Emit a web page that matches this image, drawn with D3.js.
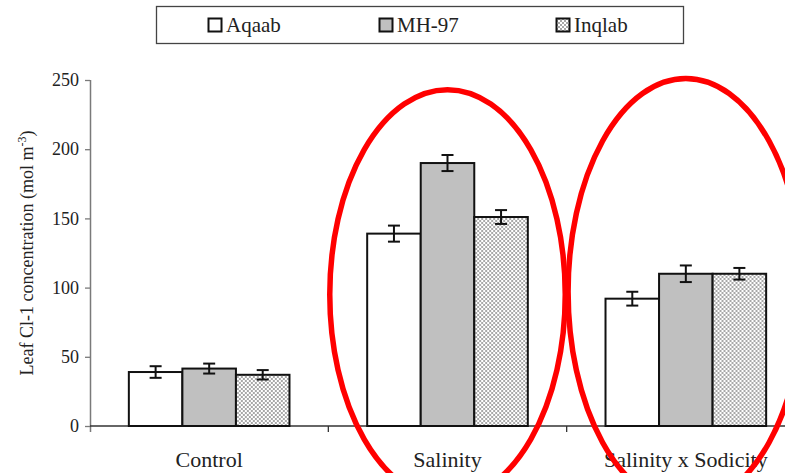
<!DOCTYPE html>
<html>
<head>
<meta charset="utf-8">
<script src="https://cdn.jsdelivr.net/npm/d3@7"></script>
<style>
  html, body { margin: 0; padding: 0; background: #fff; }
  svg { display: block; }
  svg text { font-family: "Liberation Serif", "Times New Roman", Tinos, serif !important; }
</style>
</head>
<body>
<svg id="chart" width="785" height="473"></svg>
<script>
// Treatments on the x axis
const categories = ["Control", "Salinity", "Salinity x Sodicity"];
// Wheat genotypes
const seriesNames = ["Aqaab", "MH-97", "Inqlab"];
// Leaf Cl- concentration (mol m-3) per genotype, one value per treatment
const aqaab  = [39, 139, 92];
const mh97   = [41.5, 190, 110];
const inqlab = [37, 151, 110];
// Standard errors
const aqaabErr  = [4.2, 5.8, 5];
const mh97Err   = [3.6, 5.8, 6];
const inqlabErr = [3.4, 5, 4.2];
// Y axis ticks
const yTicks = [0, 50, 100, 150, 200, 250];
// Highlighted treatments: ellipse top and centre given in data units
const highlights = [
  { category: "Salinity", top: 243, centre: 95 },
  { category: "Salinity x Sodicity", top: 251, centre: 97 }
];

const series = [
  { name: seriesNames[0], values: aqaab,  errs: aqaabErr,  fill: "#ffffff" },
  { name: seriesNames[1], values: mh97,   errs: mh97Err,   fill: "#c0c0c0" },
  { name: seriesNames[2], values: inqlab, errs: inqlabErr, fill: "url(#checker)" }
];

const svg = d3.select("#chart");

// Fine checkerboard fill
const defs = svg.append("defs");
const pat = defs.append("pattern")
  .attr("id", "checker").attr("patternUnits", "userSpaceOnUse")
  .attr("width", 4).attr("height", 4);
pat.append("rect").attr("width", 4).attr("height", 4).attr("fill", "#ffffff");
pat.append("rect").attr("width", 2).attr("height", 2).attr("fill", "#a8a8a8");
pat.append("rect").attr("x", 2).attr("y", 2).attr("width", 2).attr("height", 2).attr("fill", "#a8a8a8");

const plot = { left: 90, right: 805, top: 80, bottom: 426 };

const x = d3.scaleBand().domain(categories).range([plot.left, plot.right]).paddingInner(0).paddingOuter(0);
const groupWidth = x.bandwidth() * 0.674;
const xs = d3.scaleBand().domain(seriesNames).range([0, groupWidth]).padding(0);
const y = d3.scaleLinear().domain([0, 250]).range([plot.bottom, plot.top]);

// Y axis
const yAxis = svg.append("g")
  .attr("transform", `translate(${plot.left},0)`)
  .call(d3.axisLeft(y).tickValues(yTicks).tickSize(5).tickPadding(6).tickSizeOuter(0));
yAxis.select(".domain").attr("stroke", "#7a7a7a").attr("stroke-width", 1.5)
  .attr("d", `M0.5,${plot.top}V${plot.bottom + 6}`);
yAxis.selectAll(".tick line").attr("stroke", "#7a7a7a").attr("stroke-width", 1.3);
yAxis.selectAll(".tick text").attr("font-size", 18).attr("fill", "#222");

// X axis baseline with ticks at treatment boundaries
const xAxisG = svg.append("g").attr("transform", `translate(0,${plot.bottom})`);
xAxisG.append("line").attr("x1", plot.left).attr("x2", plot.right)
  .attr("stroke", "#333").attr("stroke-width", 1.3);
const boundaries = categories.slice(1).map(c => x(c));
xAxisG.selectAll("line.tick").data(boundaries).join("line").attr("class", "tick")
  .attr("x1", d => d).attr("x2", d => d).attr("y1", 0).attr("y2", 6)
  .attr("stroke", "#333").attr("stroke-width", 1.3);
xAxisG.selectAll("text.cat").data(categories).join("text").attr("class", "cat")
  .attr("x", d => x(d) + x.bandwidth() / 2).attr("y", 41)
  .attr("text-anchor", "middle").attr("font-size", 22).attr("fill", "#222")
  .text(d => d);

// Bars
const groups = svg.append("g").selectAll("g").data(categories).join("g")
  .attr("transform", d => `translate(${x(d) + (x.bandwidth() - groupWidth) / 2},0)`);

groups.each(function (cat, ci) {
  const g = d3.select(this);
  series.forEach(s => {
    const v = s.values[ci], e = s.errs[ci];
    const bx = xs(s.name);
    g.append("rect")
      .attr("x", bx).attr("y", y(v))
      .attr("width", xs.bandwidth()).attr("height", y(0) - y(v))
      .attr("fill", s.fill).attr("stroke", "#111").attr("stroke-width", 2);
    const cx = bx + xs.bandwidth() / 2;
    const eb = g.append("g").attr("stroke", "#111").attr("stroke-width", 2);
    eb.append("line").attr("x1", cx).attr("x2", cx).attr("y1", y(v + e)).attr("y2", y(v - e));
    eb.append("line").attr("x1", cx - 6).attr("x2", cx + 6).attr("y1", y(v + e)).attr("y2", y(v + e));
    eb.append("line").attr("x1", cx - 6).attr("x2", cx + 6).attr("y1", y(v - e)).attr("y2", y(v - e));
  });
});

// Y axis title
const yTitle = svg.append("text")
  .attr("transform", `translate(33,${(plot.top + plot.bottom) / 2}) rotate(-90)`)
  .attr("text-anchor", "middle").attr("font-size", 18).attr("fill", "#222");
yTitle.append("tspan").text("Leaf Cl-1 concentration (mol m");
yTitle.append("tspan").attr("dy", -7).attr("font-size", 12).text("-3");
yTitle.append("tspan").attr("dy", 7).text(")");

// Red ellipses around highlighted treatments
svg.append("g").selectAll("ellipse").data(highlights).join("ellipse")
  .attr("cx", d => x(d.category) + x.bandwidth() / 2)
  .attr("cy", d => y(d.centre))
  .attr("rx", x.bandwidth() * 0.494)
  .attr("ry", d => y(d.centre) - y(d.top))
  .attr("fill", "none").attr("stroke", "#ff0000").attr("stroke-width", 5.5);

// Legend
const legend = svg.append("g");
legend.append("rect").attr("x", 156.5).attr("y", 6.5).attr("width", 527).attr("height", 37)
  .attr("fill", "#fff").attr("stroke", "#444").attr("stroke-width", 1.3);
const legendX = [208, 379, 556];
const li = legend.selectAll("g.item").data(series).join("g").attr("class", "item")
  .attr("transform", (d, i) => `translate(${legendX[i]},0)`);
li.append("rect").attr("x", 0.5).attr("y", 18.5).attr("width", 13).attr("height", 13)
  .attr("fill", d => d.fill).attr("stroke", "#111").attr("stroke-width", 2);
li.append("text").attr("x", 18).attr("y", 32).attr("font-size", 21).attr("fill", "#222")
  .text(d => d.name);
</script>
</body>
</html>
